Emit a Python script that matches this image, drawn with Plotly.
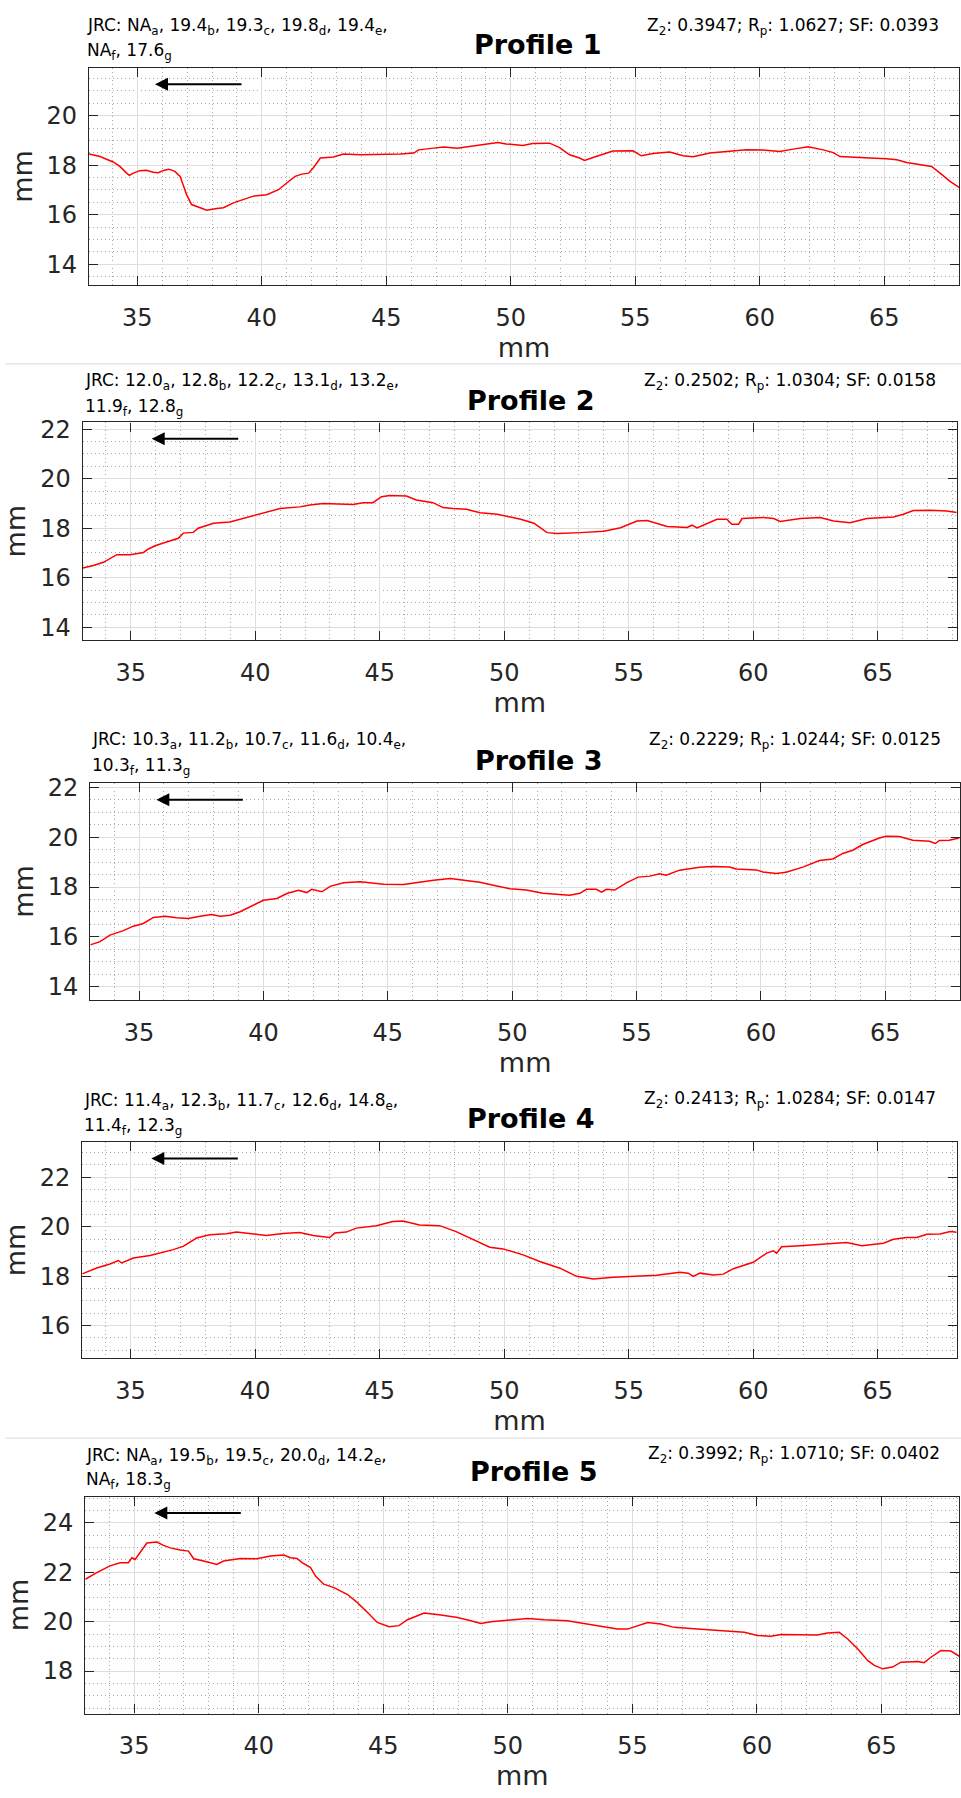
import plotly.graph_objects as go

# ---------------- data ----------------
p1_x = [33.06, 33.5, 34.03, 34.3, 34.57, 34.68, 34.84, 35.1, 35.37, 35.64, 35.84, 36.05, 36.27, 36.51, 36.72,
        36.85, 36.98, 37.18, 37.45, 37.79, 38.19, 38.46, 38.86, 39.26, 39.66, 40.2, 40.67, 41.0, 41.34, 41.61,
        41.88, 42.08, 42.35, 42.88, 43.28, 43.95, 44.49, 45.03, 45.56, 46.1, 46.3, 46.9, 47.31, 47.84, 48.24,
        48.65, 49.48, 49.81, 50.48, 50.88, 51.56, 51.96, 52.36, 52.76, 52.96, 53.3, 53.7, 54.1, 54.91, 55.24,
        55.71, 56.38, 56.92, 57.32, 57.99, 58.79, 59.46, 60.13, 60.8, 61.34, 61.94, 62.55, 62.95, 63.22, 63.89,
        64.42, 65.09, 65.5, 65.9, 66.57, 66.9, 67.24, 67.64, 68.04]
p1_y = [18.45, 18.35, 18.13, 17.95, 17.68, 17.59, 17.68, 17.78, 17.8, 17.72, 17.7, 17.79, 17.84, 17.75, 17.55,
        17.15, 16.81, 16.41, 16.31, 16.18, 16.25, 16.28, 16.48, 16.61, 16.75, 16.81, 17.01, 17.28, 17.55, 17.64,
        17.68, 17.91, 18.29, 18.33, 18.45, 18.42, 18.42, 18.45, 18.45, 18.49, 18.62, 18.69, 18.74, 18.69, 18.75,
        18.82, 18.92, 18.86, 18.8, 18.88, 18.89, 18.71, 18.42, 18.29, 18.19, 18.31, 18.45, 18.57, 18.58, 18.38,
        18.47, 18.53, 18.38, 18.34, 18.49, 18.57, 18.62, 18.61, 18.55, 18.65, 18.75, 18.62, 18.51, 18.35, 18.33,
        18.29, 18.26, 18.22, 18.11, 18.02, 17.95, 17.68, 17.35, 17.08]

p2_x = [33.07, 33.5, 33.9, 34.44, 34.97, 35.51, 35.71, 35.98, 36.31, 36.58, 36.91, 37.11, 37.51, 37.71, 38.32,
        38.98, 39.65, 40.05, 40.45, 40.99, 41.79, 42.19, 42.73, 43.93, 44.33, 44.73, 45.07, 45.4, 46.07, 46.47,
        47.14, 47.54, 47.94, 48.48, 49.03, 49.72, 50.66, 51.19, 51.72, 52.13, 53.06, 54.0, 54.67, 55.33, 55.74,
        56.54, 57.34, 57.54, 57.74, 58.54, 58.94, 59.14, 59.41, 59.55, 60.41, 60.82, 61.08, 61.89, 62.69, 63.22,
        63.89, 64.56, 65.63, 66.03, 66.43, 67.1, 67.77, 68.17]
p2_y = [16.39, 16.49, 16.62, 16.93, 16.93, 17.02, 17.16, 17.29, 17.4, 17.49, 17.59, 17.8, 17.83, 18.0, 18.2,
        18.25, 18.43, 18.56, 18.66, 18.79, 18.86, 18.94, 19.0, 18.96, 19.03, 19.03, 19.27, 19.32, 19.3, 19.14,
        19.03, 18.83, 18.79, 18.76, 18.62, 18.56, 18.36, 18.2, 17.82, 17.78, 17.82, 17.88, 18.02, 18.29, 18.31,
        18.07, 18.03, 18.12, 18.01, 18.36, 18.36, 18.16, 18.16, 18.39, 18.43, 18.39, 18.27, 18.39, 18.43, 18.29,
        18.22, 18.39, 18.45, 18.56, 18.71, 18.72, 18.69, 18.63]

p3_x = [33.04, 33.43, 33.83, 34.37, 34.77, 35.17, 35.58, 36.05, 36.51, 36.98, 37.45, 37.92, 38.26, 38.66, 39.06,
        39.6, 40.0, 40.54, 40.94, 41.41, 41.74, 41.94, 42.35, 42.68, 43.22, 43.89, 44.83, 45.63, 46.3, 46.84,
        47.51, 48.18, 48.7, 49.24, 49.91, 50.57, 51.24, 52.31, 52.72, 52.98, 53.38, 53.59, 53.79, 54.12, 54.59,
        55.06, 55.53, 55.93, 56.19, 56.73, 57.53, 58.07, 58.74, 59.0, 59.81, 60.08, 60.61, 61.01, 61.68, 62.35,
        62.89, 63.29, 63.69, 64.09, 64.76, 65.03, 65.56, 66.1, 66.77, 67.01, 67.17, 67.57, 67.97]
p3_y = [15.68, 15.81, 16.07, 16.25, 16.43, 16.54, 16.78, 16.83, 16.77, 16.74, 16.83, 16.9, 16.83, 16.87, 17.01,
        17.27, 17.47, 17.54, 17.74, 17.87, 17.78, 17.91, 17.81, 18.03, 18.17, 18.21, 18.11, 18.1, 18.21, 18.27,
        18.34, 18.25, 18.19, 18.07, 17.93, 17.88, 17.75, 17.67, 17.75, 17.91, 17.91, 17.8, 17.91, 17.88, 18.17,
        18.4, 18.44, 18.53, 18.48, 18.68, 18.8, 18.83, 18.81, 18.73, 18.69, 18.61, 18.55, 18.6, 18.8, 19.07,
        19.13, 19.35, 19.48, 19.71, 19.97, 20.04, 20.03, 19.88, 19.84, 19.75, 19.87, 19.88, 19.97]

p4_x = [33.06, 33.64, 34.17, 34.51, 34.64, 35.11, 35.78, 36.18, 36.71, 37.11, 37.65, 38.18, 38.85, 39.25, 39.92,
        40.45, 41.12, 41.79, 42.33, 42.99, 43.2, 43.66, 44.06, 44.87, 45.53, 45.94, 46.6, 47.41, 48.07, 48.61,
        49.02, 49.42, 49.96, 50.76, 51.43, 52.24, 52.91, 53.58, 54.38, 55.05, 56.12, 57.06, 57.39, 57.59, 57.86,
        58.4, 58.8, 59.2, 60.0, 60.54, 60.81, 60.94, 61.14, 61.88, 63.08, 63.75, 64.36, 65.23, 65.63, 66.17,
        66.57, 66.97, 67.5, 67.91, 68.17]
p4_y = [18.09, 18.33, 18.49, 18.63, 18.53, 18.73, 18.83, 18.93, 19.07, 19.2, 19.54, 19.67, 19.71, 19.78, 19.7,
        19.64, 19.72, 19.76, 19.64, 19.56, 19.74, 19.78, 19.94, 20.04, 20.21, 20.23, 20.07, 20.04, 19.8, 19.54,
        19.33, 19.17, 19.1, 18.86, 18.59, 18.32, 17.99, 17.88, 17.95, 17.99, 18.03, 18.16, 18.12, 17.99, 18.12,
        18.05, 18.08, 18.3, 18.56, 18.93, 19.02, 18.93, 19.19, 19.23, 19.33, 19.36, 19.23, 19.33, 19.49, 19.56,
        19.56, 19.69, 19.7, 19.8, 19.77]

p5_x = [33.04, 33.5, 34.03, 34.44, 34.77, 34.91, 35.04, 35.24, 35.51, 35.91, 36.18, 36.45, 36.85, 37.18, 37.39,
        37.79, 38.32, 38.59, 39.26, 39.93, 40.47, 41.01, 41.27, 41.54, 41.74, 42.08, 42.28, 42.61, 43.02, 43.55,
        43.95, 44.36, 44.76, 45.23, 45.63, 45.97, 46.64, 47.31, 47.98, 48.51, 48.92, 49.32, 49.99, 50.79, 51.46,
        52.39, 52.93, 53.73, 54.4, 54.8, 55.61, 56.14, 56.68, 57.61, 58.55, 59.49, 60.02, 60.56, 60.96, 61.76,
        62.43, 62.83, 63.3, 63.64, 64.04, 64.44, 64.71, 65.04, 65.44, 65.78, 66.45, 66.71, 66.98, 67.38, 67.78,
        68.12]
p5_y = [21.72, 21.99, 22.26, 22.39, 22.39, 22.59, 22.52, 22.79, 23.19, 23.23, 23.09, 22.99, 22.9, 22.86, 22.55,
        22.46, 22.32, 22.46, 22.56, 22.55, 22.66, 22.7, 22.59, 22.56, 22.39, 22.19, 21.85, 21.52, 21.38, 21.11,
        20.78, 20.38, 19.97, 19.8, 19.84, 20.08, 20.35, 20.27, 20.17, 20.04, 19.93, 20.0, 20.07, 20.13, 20.08,
        20.04, 19.95, 19.81, 19.7, 19.7, 19.97, 19.91, 19.77, 19.7, 19.64, 19.57, 19.44, 19.41, 19.48, 19.46,
        19.46, 19.54, 19.57, 19.3, 18.9, 18.43, 18.23, 18.09, 18.16, 18.36, 18.39, 18.34, 18.56, 18.83, 18.81,
        18.6]

profile_names = ["Profile 1", "Profile 2", "Profile 3", "Profile 4", "Profile 5"]
jrc_values = [
    ["NA", "19.4", "19.3", "19.8", "19.4", "NA", "17.6"],
    ["12.0", "12.8", "12.2", "13.1", "13.2", "11.9", "12.8"],
    ["10.3", "11.2", "10.7", "11.6", "10.4", "10.3", "11.3"],
    ["11.4", "12.3", "11.7", "12.6", "14.8", "11.4", "12.3"],
    ["NA", "19.5", "19.5", "20.0", "14.2", "NA", "18.3"],
]
jrc_subs = ["a", "b", "c", "d", "e", "f", "g"]
z2_values = ["0.3947", "0.2502", "0.2229", "0.2413", "0.3992"]
rp_values = ["1.0627", "1.0304", "1.0244", "1.0284", "1.0710"]
sf_values = ["0.0393", "0.0158", "0.0125", "0.0147", "0.0402"]
xs = [p1_x, p2_x, p3_x, p4_x, p5_x]
ys = [p1_y, p2_y, p3_y, p4_y, p5_y]

# ---------------- layout (pixels in the 961x1798 page) ----------------
W, H = 961, 1798
panel_px = [(89, 959, 59.3, 277.7), (82.7, 956.7, 416, 634.7), (90.3, 960, 779, 997),
            (82.3, 956.7, 1140, 1357.3), (85.3, 959.3, 1496.7, 1715)]
xranges = [[33.06, 68.0], [33.07, 68.17], [33.04, 68.0], [33.06, 68.17], [33.04, 68.12]]
yranges = [[13.16, 21.93], [13.49, 22.27], [13.47, 22.17], [14.69, 23.42], [16.28, 25.07]]
# header text positions: (jrc_x, jrc_y1, jrc_y2, title_x, title_y, z_right, z_y)
header_px = [(85, 18, 43, 537, 36, 941, 18),
             (83, 375, 401, 530, 394, 938, 375),
             (90, 736, 762, 538, 756, 943, 736),
             (82, 1099, 1124, 530, 1116, 938, 1097),
             (84, 1456, 1481, 533, 1472, 942, 1454)]
arrow_off = [66, 69, 66, 69, 69]
separators_y = [357, 1438]

TXT = "#262626"
FONT = "DejaVu Sans"

fig = go.Figure()
annotations = []
shapes = []


def px2fx(px):
    return px / W


def px2fy(py):
    return 1 - py / H


for i in range(5):
    n = "" if i == 0 else str(i + 1)
    xl, xr, yt, yb = panel_px[i]
    fig.add_trace(go.Scatter(x=xs[i], y=ys[i], mode="lines", xaxis="x" + n, yaxis="y" + n,
                             line=dict(color="#ff0000", width=1.5), showlegend=False,
                             hoverinfo="x+y"))
    common = dict(showline=True, linecolor=TXT, linewidth=1.3, mirror="ticks",
                  ticks="inside", ticklen=9, tickwidth=1.2, tickcolor=TXT,
                  showgrid=True, gridcolor="#dedede", gridwidth=1.2, zeroline=False,
                  tickfont=dict(family=FONT, size=24, color=TXT), fixedrange=True)
    minor_style = dict(showgrid=True, gridcolor="#a9a9a9", griddash="1px,3px", gridwidth=1, ticks="")
    fig.layout["xaxis" + n] = dict(
        domain=[px2fx(xl), px2fx(xr)], range=xranges[i], anchor="y" + n,
        tick0=0, dtick=5, ticklabelstandoff=11,
        minor=dict(dtick=1, tick0=0, **minor_style),
        title=dict(text="mm", font=dict(family=FONT, size=27, color=TXT), standoff=5),
        **common)
    fig.layout["yaxis" + n] = dict(
        domain=[px2fy(yb), px2fy(yt)], range=yranges[i], anchor="x" + n,
        tick0=0, dtick=2, ticklabelstandoff=6,
        minor=dict(dtick=0.5, tick0=0, **minor_style),
        title=dict(text="mm", font=dict(family=FONT, size=27, color=TXT), standoff=6),
        **common)

    jx, jy1, jy2, tx, ty, zx, zy = header_px[i]
    v = jrc_values[i]
    line1 = "JRC: " + ", ".join(f"{v[k]}<sub>{jrc_subs[k]}</sub>" for k in range(5)) + ","
    line2 = ", ".join(f"{v[k]}<sub>{jrc_subs[k]}</sub>" for k in range(5, 7))
    for txt, yy in ((line1, jy1), (line2, jy2)):
        annotations.append(dict(text=txt, x=px2fx(jx), y=px2fy(yy), xref="paper", yref="paper",
                                xanchor="left", yanchor="middle", showarrow=False,
                                font=dict(family=FONT, size=17, color="#000000")))
    annotations.append(dict(text=f"<b>{profile_names[i]}</b>", x=px2fx(tx), y=px2fy(ty),
                            xref="paper", yref="paper", xanchor="center", yanchor="middle",
                            showarrow=False, font=dict(family=FONT, size=27, color="#000000")))
    ztxt = (f"Z<sub>2</sub>: {z2_values[i]}; R<sub>p</sub>: {rp_values[i]}; "
            f"SF: {sf_values[i]}")
    annotations.append(dict(text=ztxt, x=px2fx(zx), y=px2fy(zy), xref="paper", yref="paper",
                            xanchor="right", yanchor="middle", showarrow=False,
                            font=dict(family=FONT, size=17, color="#000000")))
    # direction arrow
    annotations.append(dict(text="", x=arrow_off[i] / (xr - xl), y=1 - 16.5 / (yb - yt),
                            xref="x" + n + " domain", yref="y" + n + " domain",
                            axref="pixel", ayref="pixel", ax=88, ay=0, showarrow=True,
                            arrowhead=2, arrowsize=1.3, arrowwidth=2, arrowcolor="#000000",
                            standoff=0, startstandoff=0))

for sy in separators_y:
    shapes.append(dict(type="line", xref="paper", yref="paper", x0=0.006, x1=1,
                       y0=px2fy(sy), y1=px2fy(sy), line=dict(color="#e6e6e6", width=1.5)))

fig.update_layout(width=W, height=H, autosize=False,
                  margin=dict(l=0, r=0, t=0, b=0, pad=0),
                  paper_bgcolor="#ffffff", plot_bgcolor="#ffffff",
                  annotations=annotations, shapes=shapes, showlegend=False)

fig.write_html("out.html")
